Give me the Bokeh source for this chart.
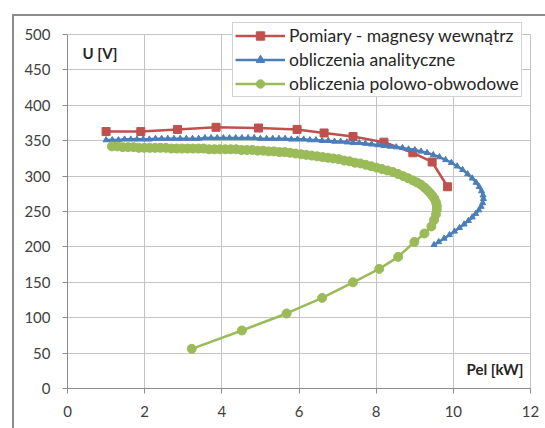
from bokeh.plotting import figure
from bokeh.models import Legend, LegendItem, Label, Range1d, FixedTicker
from bokeh.embed import file_html
from bokeh.resources import INLINE

# Pomiary - magnesy wewnątrz
red_x = [1.0, 1.9, 2.85, 3.85, 4.95, 5.95, 6.65, 7.4, 8.2, 8.95, 9.45, 9.85]
red_y = [363, 363, 366, 369, 368, 366, 361, 356, 348, 333, 320, 285]

# obliczenia analityczne
blue_x = [1.00, 1.16, 1.32, 1.48, 1.64, 1.80, 1.96, 2.12, 2.28, 2.44,
          2.60, 2.76, 2.92, 3.08, 3.24, 3.40, 3.56, 3.72, 3.88, 4.04,
          4.20, 4.36, 4.52, 4.68, 4.84, 5.00, 5.16, 5.32, 5.48, 5.64,
          5.80, 5.96, 6.12, 6.28, 6.44, 6.60, 6.76, 6.92, 7.08, 7.24,
          7.40, 7.56, 7.72, 7.88, 8.04, 8.20, 8.36, 8.52, 8.68, 8.84,
          9.00, 9.16, 9.32, 9.48, 9.64, 9.80,
          9.95, 10.10, 10.24, 10.37, 10.49, 10.59, 10.67, 10.73, 10.77, 10.78,
          10.76, 10.72, 10.66, 10.58, 10.49, 10.39, 10.28, 10.16, 10.03, 9.90,
          9.76, 9.62, 9.50]
blue_y = [351, 351, 351, 352, 352, 352, 352, 352, 353, 353,
          353, 353, 353, 353, 353, 353, 354, 354, 354, 354,
          354, 354, 354, 354, 354, 353, 353, 353, 353, 353,
          352, 352, 352, 351, 351, 350, 350, 349, 349, 348,
          347, 347, 346, 345, 344, 343, 342, 341, 340, 338,
          337, 335, 333, 330, 327, 323,
          319, 314, 309, 303, 297, 291, 285, 279, 273, 268,
          262, 257, 252, 247, 242, 237, 232, 227, 222, 217,
          212, 207, 203]

# obliczenia polowo-obwodowe
green_x = [1.15, 1.29, 1.43, 1.57, 1.71, 1.85, 1.99, 2.13, 2.27, 2.41,
           2.55, 2.69, 2.83, 2.97, 3.11, 3.25, 3.39, 3.53, 3.67, 3.81,
           3.95, 4.09, 4.23, 4.37, 4.51, 4.65, 4.79, 4.93, 5.07, 5.21,
           5.35, 5.49, 5.63, 5.77, 5.91, 6.05, 6.19, 6.33, 6.47, 6.61,
           6.75, 6.89, 7.03, 7.17, 7.31, 7.45, 7.59, 7.73, 7.87, 8.01,
           8.15, 8.29, 8.43, 8.57, 8.70, 8.83, 8.95, 9.06, 9.16, 9.25,
           9.33, 9.40, 9.46, 9.51, 9.55, 9.57, 9.57, 9.55, 9.50, 9.43,
           9.25, 8.99, 8.57, 8.08, 7.40, 6.60, 5.68, 4.52, 3.22]
green_y = [342, 342, 341, 341, 341, 340, 340, 340, 340, 340,
           340, 339, 339, 339, 339, 339, 339, 339, 338, 338,
           338, 338, 338, 338, 337, 337, 337, 336, 336, 335,
           335, 334, 334, 333, 332, 331, 330, 329, 328, 327,
           326, 325, 324, 322, 321, 319, 318, 316, 314, 312,
           310, 308, 306, 303, 300, 297, 294, 291, 288, 284,
           280, 276, 272, 268, 263, 258, 253, 246, 238, 229,
           219, 207, 186, 169, 150, 128, 106, 82, 56]

x_ticks = [0, 2, 4, 6, 8, 10, 12]
y_ticks = [0, 50, 100, 150, 200, 250, 300, 350, 400, 450, 500]
series_names = ["Pomiary - magnesy wewnątrz", "obliczenia analityczne", "obliczenia polowo-obwodowe"]
y_title = "U [V]"
x_title = "Pel [kW]"

RED = "#C0504D"
BLUE = "#4A7EBB"
GREEN = "#9BBB59"
FONT = "Lato"

# frame: x 0..12 -> px 67..528, y 0..500 -> px 386..34
p = figure(width=533, height=414, output_backend="svg", toolbar_location=None,
           x_range=Range1d(0, 12.44), y_range=Range1d(0, 519.9),
           min_border_left=53, min_border_right=0, min_border_top=4, min_border_bottom=42,
           margin=(14, 0, 0, 12),
           styles={"border-left": "2px solid #8c8c8c", "border-top": "2px solid #8c8c8c"})
p.background_fill_color = "white"
p.border_fill_color = "white"
p.outline_line_color = None

for ax in (p.xaxis[0], p.yaxis[0]):
    ax.axis_line_color = "#8c8c8c"
    ax.major_tick_line_color = "#8c8c8c"
    ax.major_tick_out = 5
    ax.major_tick_in = 0
    ax.minor_tick_line_color = None
    ax.major_label_text_font = FONT
    ax.major_label_text_font_size = "15px"
    ax.major_label_text_color = "#404040"
    ax.major_label_standoff = 12
p.xaxis.bounds = (0, 12)
p.yaxis.bounds = (0, 500)
p.xaxis.ticker = FixedTicker(ticks=x_ticks)
p.yaxis.ticker = FixedTicker(ticks=y_ticks)
p.xgrid.ticker = FixedTicker(ticks=x_ticks)
p.ygrid.ticker = FixedTicker(ticks=y_ticks)
p.xgrid.cross_bounds = (0, 500)
p.ygrid.cross_bounds = (0, 12)
p.xgrid.grid_line_color = "#c4c4c4"
p.ygrid.grid_line_color = "#c4c4c4"

rl = p.line(red_x, red_y, line_color=RED, line_width=2.5)
rs = p.scatter(red_x, red_y, marker="square", size=8, fill_color=RED, line_color=RED)
bl = p.line(blue_x, blue_y, line_color=BLUE, line_width=2.5)
bs = p.scatter(blue_x, blue_y, marker="triangle", size=6, fill_color=BLUE, line_color=BLUE)
gl = p.line(green_x, green_y, line_color=GREEN, line_width=2.5)
gs = p.scatter(green_x, green_y, marker="circle", size=9, fill_color=GREEN, line_color=GREEN)

legend = Legend(items=[LegendItem(label=series_names[0], renderers=[rl, rs]),
                       LegendItem(label=series_names[1], renderers=[bl, bs]),
                       LegendItem(label=series_names[2], renderers=[gl, gs])],
                location=(165, 291))
legend.label_text_font = FONT
legend.label_text_font_size = "17.5px"
legend.label_text_color = "#262626"
legend.label_height = 21
legend.glyph_height = 21
legend.glyph_width = 50
legend.label_standoff = 4
legend.spacing = 3
legend.padding = 2
legend.margin = 0
legend.border_line_color = "#a6a6a6"
legend.background_fill_color = "white"
legend.background_fill_alpha = 1
p.add_layout(legend)

p.add_layout(Label(x=0.39, y=474, text=y_title, text_font=FONT, text_font_size="15px",
                   text_font_style="bold", text_color="#262626", text_baseline="middle"))
p.add_layout(Label(x=11.82, y=27, text=x_title, text_font=FONT, text_font_size="15px",
                   text_font_style="bold", text_color="#262626", text_baseline="middle",
                   text_align="right"))

open("out.html", "w").write(file_html(p, INLINE))
